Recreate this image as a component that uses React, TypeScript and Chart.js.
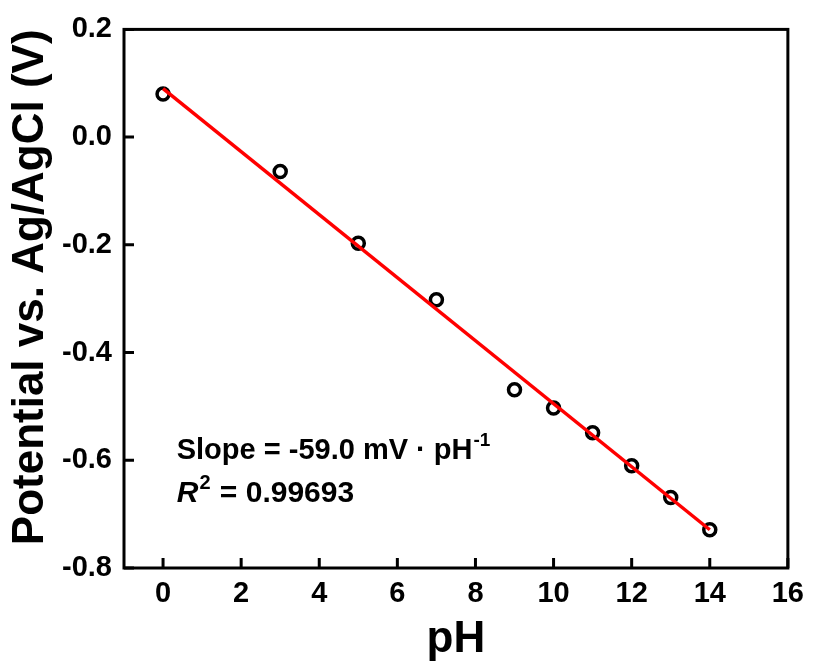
import React, { useEffect, useRef } from "react";
import { Chart, registerables } from "chart.js";

Chart.register(...registerables);

const phValues = [0, 3, 5, 7, 9, 10, 11, 12, 13, 14];
const potentials = [0.08, -0.064, -0.197, -0.302, -0.469, -0.503, -0.549, -0.61, -0.669, -0.729];
const fitPh = [0, 14];
const fitPotential = [0.09, -0.729];
const xTicks = [0, 2, 4, 6, 8, 10, 12, 14, 16];
const yTicks = [0.2, 0.0, -0.2, -0.4, -0.6, -0.8];
const slopeText = "Slope = -59.0 mV \u00b7 pH";
const slopeSup = "-1";
const r2Value = "= 0.99693";

const FONT = "'Liberation Sans', Arial, sans-serif";

const framePlugin = {
  id: "frameAndTicks",
  afterDraw(chart: any) {
    const { ctx, chartArea, scales } = chart;
    const { left, right, top, bottom } = chartArea;
    ctx.save();
    ctx.strokeStyle = "#000";
    ctx.lineWidth = 3;
    ctx.lineCap = "butt";
    ctx.beginPath();
    for (const v of xTicks) {
      const px = scales.x.getPixelForValue(v);
      ctx.moveTo(px, bottom);
      ctx.lineTo(px, bottom - 10);
    }
    for (const v of yTicks) {
      const py = scales.y.getPixelForValue(v);
      ctx.moveTo(left, py);
      ctx.lineTo(left + 10, py);
    }
    ctx.stroke();
    ctx.lineJoin = "miter";
    ctx.strokeRect(left, top, right - left, bottom - top);

    const ax = scales.x.getPixelForValue(0.35);
    const y1 = scales.y.getPixelForValue(-0.598);
    const y2 = scales.y.getPixelForValue(-0.677);
    ctx.fillStyle = "#000";
    ctx.textBaseline = "alphabetic";
    ctx.textAlign = "left";
    ctx.font = `bold 29px ${FONT}`;
    ctx.fillText(slopeText, ax, y1);
    const w1 = ctx.measureText(slopeText).width;
    ctx.font = `bold 19px ${FONT}`;
    ctx.fillText(slopeSup, ax + w1 + 1, y1 - 13);

    ctx.font = `italic bold 30px ${FONT}`;
    ctx.fillText("R", ax, y2);
    const wR = ctx.measureText("R").width;
    ctx.font = `bold 20px ${FONT}`;
    ctx.fillText("2", ax + wR + 1, y2 - 13);
    const w2 = ctx.measureText("2").width;
    ctx.font = `bold 30px ${FONT}`;
    ctx.fillText(" " + r2Value, ax + wR + w2 + 2, y2);
    ctx.restore();
  },
};

export default function App() {
  const canvasRef = useRef<HTMLCanvasElement | null>(null);

  useEffect(() => {
    document.body.style.margin = "0";
    const canvas = canvasRef.current;
    if (!canvas) return;
    const chart = new Chart(canvas, {
      type: "scatter",
      data: {
        datasets: [
          {
            type: "line",
            label: "Linear fit",
            data: fitPh.map((x, i) => ({ x, y: fitPotential[i] })),
            borderColor: "#ff0000",
            borderWidth: 3.5,
            pointRadius: 0,
            fill: false,
            order: 0,
          } as any,
          {
            type: "scatter",
            label: "Potential",
            data: phValues.map((x, i) => ({ x, y: potentials[i] })),
            pointStyle: "circle",
            pointRadius: 6,
            pointBorderWidth: 3.5,
            borderColor: "#000",
            pointBorderColor: "#000",
            backgroundColor: "rgba(0,0,0,0)",
            pointBackgroundColor: "rgba(0,0,0,0)",
            order: 1,
          } as any,
        ],
      },
      options: {
        responsive: false,
        animation: false,
        layout: { padding: { top: 26, right: 21, left: 0, bottom: 0 } },
        plugins: {
          legend: { display: false },
          tooltip: { enabled: false },
        },
        scales: {
          x: {
            type: "linear",
            min: -1,
            max: 16,
            grid: { display: false, drawTicks: false },
            border: { display: false },
            afterBuildTicks: (scale: any) => {
              scale.ticks = xTicks.map((value) => ({ value }));
            },
            afterFit: (scale: any) => {
              scale.height = 96;
            },
            ticks: {
              color: "#000",
              padding: 9,
              font: { family: FONT, size: 29, weight: "bold" },
              callback: (v: any) => String(v),
            },
            title: {
              display: true,
              text: "pH",
              color: "#000",
              font: { family: FONT, size: 44, weight: "bold" },
              padding: { top: 0, bottom: -2 },
            },
          },
          y: {
            type: "linear",
            min: -0.8,
            max: 0.2,
            grid: { display: false, drawTicks: false },
            border: { display: false },
            afterBuildTicks: (scale: any) => {
              scale.ticks = yTicks.map((value) => ({ value }));
            },
            afterFit: (scale: any) => {
              scale.width = 124;
            },
            ticks: {
              color: "#000",
              padding: 12,
              font: { family: FONT, size: 29, weight: "bold" },
              callback: (v: any) => Number(v).toFixed(1),
            },
            title: {
              display: true,
              text: "Potential vs. Ag/AgCl (V)",
              align: "end",
              color: "#000",
              font: { family: FONT, size: 44, weight: "bold" },
              padding: { top: 4, bottom: 0 },
            },
          },
        },
      },
      plugins: [framePlugin],
    });
    return () => chart.destroy();
  }, []);

  return (
    <div style={{ width: 813, height: 664 }}>
      <canvas ref={canvasRef} width={813} height={664} style={{ display: "block" }} />
    </div>
  );
}
